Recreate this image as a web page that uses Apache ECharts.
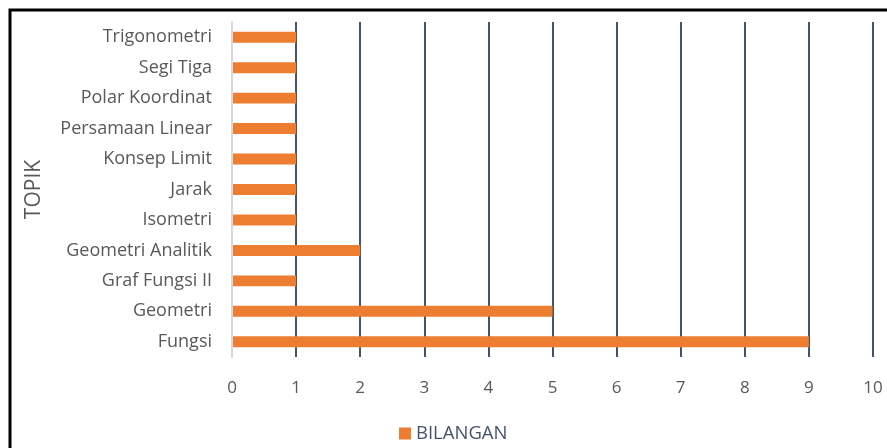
<!DOCTYPE html>
<html>
<head>
<meta charset="utf-8">
<script src="https://cdn.jsdelivr.net/npm/echarts@6/dist/echarts.min.js"></script>
<style>
  html, body { margin: 0; padding: 0; background: #fff; }
  #chart { width: 887px; height: 448px; }
</style>
</head>
<body>
<div id="chart"></div>
<script>
  // categories listed bottom to top, as ECharts draws a category y axis
  var topics = [
    "Fungsi",
    "Geometri",
    "Graf Fungsi II",
    "Geometri Analitik",
    "Isometri",
    "Jarak",
    "Konsep Limit",
    "Persamaan Linear",
    "Polar Koordinat",
    "Segi Tiga",
    "Trigonometri",
  ];
  var bilangan = [9, 5, 1, 2, 1, 1, 1, 1, 1, 1, 1];
  var xTicks = [0, 10, 1]; // min, max, interval

  var chart = echarts.init(document.getElementById("chart"));
  var font = "'Open Sans', 'Noto Sans', sans-serif";

  var option = {
    backgroundColor: "#fff",
    animation: false,
    grid: {
      left: 232,
      right: 14,
      top: 22,
      bottom: 91,
    },
    legend: {
      bottom: 0,
      left: 394,
      itemWidth: 12,
      itemHeight: 12,
      itemGap: 6,
      icon: "rect",
      textStyle: {
        color: "#44546A",
        fontSize: 18.5,
        fontFamily: font,
      },
    },
    xAxis: {
      type: "value",
      min: xTicks[0],
      max: xTicks[1],
      interval: xTicks[2],
      axisLine: { show: false },
      axisTick: { show: false },
      axisLabel: {
        color: "#595959",
        fontSize: 17,
        fontFamily: font,
        margin: 23,
      },
      splitLine: {
        lineStyle: { color: "#44546A", width: 2 },
      },
    },
    yAxis: {
      type: "category",
      data: topics,
      z: 5,
      name: "TOPIK",
      nameLocation: "middle",
      nameGap: 187,
      nameRotate: 90,
      nameTextStyle: {
        color: "#595959",
        fontSize: 21,
        fontFamily: font,
      },
      axisLine: {
        lineStyle: { color: "#D9D9D9", width: 2 },
      },
      axisTick: {
        length: 5,
        lineStyle: { color: "#D9D9D9", width: 2 },
      },
      axisLabel: {
        color: "#595959",
        fontSize: 18,
        fontFamily: font,
        margin: 20,
      },
    },
    series: [
      {
        name: "BILANGAN",
        type: "bar",
        data: bilangan,
        barWidth: "36%",
        itemStyle: { color: "#ED7D31" },
      },
    ],
    graphic: [
      {
        type: "polyline",
        shape: { points: [[10, 448], [10, 10], [887, 10]] },
        style: { stroke: "#000", lineWidth: 3, fill: null },
      },
    ],
  };

  chart.setOption(option);
</script>
</body>
</html>
